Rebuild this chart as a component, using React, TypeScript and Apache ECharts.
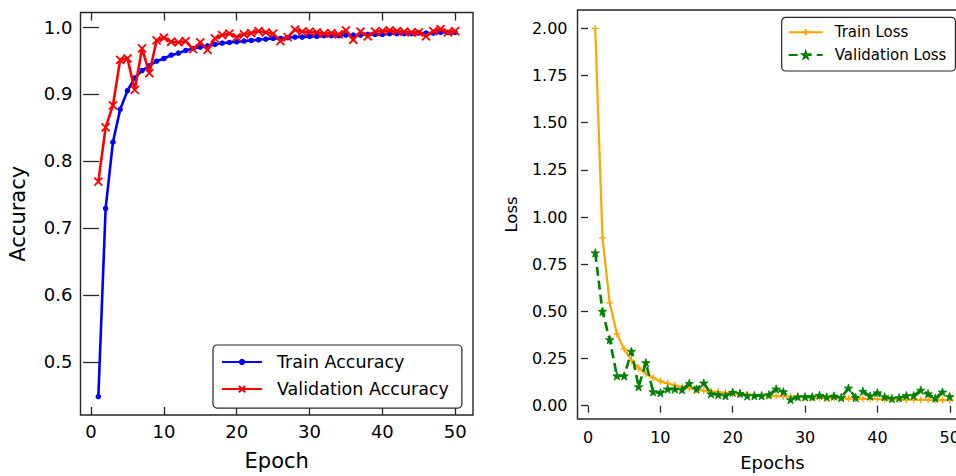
import React, { useEffect, useRef } from "react";
import * as echarts from "echarts";

const epochs = [1,2,3,4,5,6,7,8,9,10,11,12,13,14,15,16,17,18,19,20,21,22,23,24,25,26,27,28,29,30,31,32,33,34,35,36,37,38,39,40,41,42,43,44,45,46,47,48,49,50];

const trainAcc = [0.448,0.729,0.828,0.877,0.905,0.924,0.935,0.942,0.949,0.953,0.958,0.961,0.965,0.968,0.970,0.972,0.974,0.976,0.977,0.978,0.979,0.980,0.981,0.982,0.983,0.983,0.984,0.985,0.985,0.986,0.986,0.987,0.987,0.987,0.988,0.988,0.988,0.989,0.989,0.989,0.990,0.990,0.990,0.990,0.991,0.991,0.991,0.992,0.992,0.992];

const valAcc = [0.769,0.850,0.883,0.951,0.953,0.906,0.968,0.931,0.980,0.984,0.978,0.977,0.979,0.967,0.977,0.966,0.983,0.988,0.990,0.985,0.989,0.991,0.994,0.992,0.990,0.979,0.985,0.996,0.993,0.993,0.992,0.990,0.991,0.989,0.995,0.981,0.993,0.986,0.993,0.994,0.995,0.994,0.993,0.992,0.992,0.986,0.994,0.997,0.992,0.994];

const trainLoss = [2.00,0.89,0.545,0.38,0.30,0.24,0.20,0.17,0.148,0.13,0.118,0.108,0.099,0.092,0.086,0.080,0.076,0.072,0.068,0.065,0.062,0.060,0.057,0.055,0.053,0.051,0.049,0.048,0.046,0.045,0.044,0.042,0.041,0.040,0.039,0.038,0.037,0.037,0.036,0.035,0.034,0.034,0.033,0.032,0.032,0.031,0.031,0.030,0.030,0.029];

const valLoss = [0.81,0.50,0.35,0.158,0.158,0.288,0.100,0.228,0.074,0.068,0.088,0.088,0.085,0.118,0.088,0.120,0.063,0.058,0.053,0.071,0.065,0.052,0.053,0.053,0.058,0.088,0.074,0.032,0.047,0.047,0.047,0.055,0.046,0.051,0.043,0.093,0.043,0.076,0.051,0.068,0.047,0.038,0.042,0.053,0.053,0.082,0.063,0.040,0.072,0.048];

const epochTicks = [0, 10, 20, 30, 40, 50];
const accTicks = [0.5, 0.6, 0.7, 0.8, 0.9, 1.0];
const lossTicks = [0, 0.25, 0.5, 0.75, 1.0, 1.25, 1.5, 1.75, 2.0];

const STAR = "path://M50,0L61.8,35.1L98.5,35.1L68.8,56.7L79.9,91.9L50,70.3L20.1,91.9L31.2,56.7L1.5,35.1L38.2,35.1Z";
const CROSS = "path://M0,0L10,10M0,10L10,0";
const PLUS = "path://M5,0L5,10M0,5L10,5";

const FONT = "DejaVu Sans";
const FRAME = "#262626";

export default function App() {
  const ref = useRef<HTMLDivElement>(null);
  useEffect(() => {
    if (!ref.current) return;
    const chart = echarts.init(ref.current, undefined, { renderer: "svg" });
    const pairs = (vals: number[]) => epochs.map((e, i) => [e, vals[i]]);
    const tickLine = { color: FRAME, width: 1.3 };
    const option: any = {
      animation: false,
      textStyle: { fontFamily: FONT },
      grid: [
        { left: 80.5, top: 12.5, width: 392.5, height: 404.2, show: true, borderColor: FRAME, borderWidth: 1.4, backgroundColor: "transparent" },
        { left: 577.5, top: 10, width: 390, height: 411.7, show: true, borderColor: FRAME, borderWidth: 1.4, backgroundColor: "transparent" },
      ],
      xAxis: [
        {
          gridIndex: 0, type: "value", min: -1.45, max: 52.45, position: "bottom",
          axisLine: { show: false }, splitLine: { show: false },
          axisTick: { show: true, inside: true, length: 8, customValues: epochTicks, lineStyle: tickLine },
          axisLabel: { customValues: epochTicks, fontSize: 18, color: "#000", margin: 7, fontFamily: FONT },
          name: "Epoch", nameLocation: "middle", nameGap: 35, nameTextStyle: { fontSize: 21, color: "#000", fontFamily: FONT },
        },
        {
          gridIndex: 0, type: "value", min: -1.45, max: 52.45, position: "top",
          axisLine: { show: false }, splitLine: { show: false },
          axisTick: { show: true, inside: true, length: 8, customValues: epochTicks, lineStyle: tickLine },
          axisLabel: { show: false },
        },
        {
          gridIndex: 1, type: "value", min: -1.45, max: 52.45, position: "bottom",
          axisLine: { show: false }, splitLine: { show: false },
          axisTick: { show: true, inside: false, length: 7, customValues: epochTicks, lineStyle: tickLine },
          axisLabel: { customValues: epochTicks, fontSize: 16, color: "#000", margin: 10, fontFamily: FONT },
          name: "Epochs", nameLocation: "middle", nameGap: 34, nameTextStyle: { fontSize: 18, color: "#000", fontFamily: FONT },
        },
      ],
      yAxis: [
        {
          gridIndex: 0, type: "value", min: 0.4205, max: 1.0217, position: "left",
          axisLine: { show: false }, splitLine: { show: false },
          axisTick: { show: true, inside: true, length: 8, customValues: accTicks, lineStyle: tickLine },
          axisLabel: { customValues: accTicks, fontSize: 18, color: "#000", margin: 8, fontFamily: FONT, formatter: (v: number) => v.toFixed(1) },
          name: "Accuracy", nameLocation: "middle", nameGap: 52, nameTextStyle: { fontSize: 21, color: "#000", fontFamily: FONT },
        },
        {
          gridIndex: 0, type: "value", min: 0.4205, max: 1.0217, position: "right",
          axisLine: { show: false }, splitLine: { show: false },
          axisTick: { show: true, inside: true, length: 8, customValues: accTicks, lineStyle: tickLine },
          axisLabel: { show: false },
        },
        {
          gridIndex: 1, type: "value", min: -0.0705, max: 2.0975, position: "left",
          axisLine: { show: false }, splitLine: { show: false },
          axisTick: { show: true, inside: false, length: 7, customValues: lossTicks, lineStyle: tickLine },
          axisLabel: { customValues: lossTicks, fontSize: 16, color: "#000", margin: 10, fontFamily: FONT, formatter: (v: number) => v.toFixed(2) },
          name: "Loss", nameLocation: "middle", nameGap: 58, nameTextStyle: { fontSize: 16.5, color: "#000", fontFamily: FONT },
        },
      ],
      legend: [
        {
          data: ["Train Accuracy", "Validation Accuracy"], orient: "vertical", left: 213, top: 345,
          itemWidth: 40, itemHeight: 8, itemGap: 9.1, padding: [8, 13, 10, 8],
          borderColor: FRAME, borderWidth: 1.2, borderRadius: 4, backgroundColor: "#fff",
          textStyle: { fontSize: 17.5, color: "#000", fontFamily: FONT, padding: [0, 0, 0, 10] },
          selectedMode: false,
        },
        {
          data: ["Train Loss", "Validation Loss"], orient: "vertical", left: 781.7, top: 17.3,
          itemWidth: 34, itemHeight: 8, itemGap: 7.7, padding: [7.5, 9, 8.5, 6],
          borderColor: FRAME, borderWidth: 1.2, borderRadius: 4, backgroundColor: "#fff",
          textStyle: { fontSize: 15, color: "#000", fontFamily: FONT, padding: [0, 0, 0, 7] },
          selectedMode: false,
        },
      ],
      series: [
        {
          type: "line", name: "Train Accuracy", xAxisIndex: 0, yAxisIndex: 0, data: pairs(trainAcc),
          symbol: "circle", symbolSize: 5.5, lineStyle: { color: "#0000ff", width: 2.6 },
          itemStyle: { color: "#0000ff", borderWidth: 0 }, z: 2,
        },
        {
          type: "line", name: "Validation Accuracy", xAxisIndex: 0, yAxisIndex: 0, data: pairs(valAcc),
          symbol: CROSS, symbolSize: 8, lineStyle: { color: "#ff0000", width: 2.6 },
          itemStyle: { color: "#ff0000", borderColor: "#ff0000", borderWidth: 1.8 }, z: 3,
        },
        {
          type: "line", name: "Train Loss", xAxisIndex: 2, yAxisIndex: 2, data: pairs(trainLoss),
          symbol: PLUS, symbolSize: 7, lineStyle: { color: "#ffa500", width: 2.2 },
          itemStyle: { color: "#ffa500", borderColor: "#ffa500", borderWidth: 1.3 }, z: 2,
        },
        {
          type: "line", name: "Validation Loss", xAxisIndex: 2, yAxisIndex: 2, data: pairs(valLoss),
          symbol: STAR, symbolSize: 8.5, lineStyle: { color: "#008000", width: 2.6, type: [9, 5] },
          itemStyle: { color: "#008000", borderColor: "#008000", borderWidth: 0.8 }, z: 3,
        },
      ],
    };
    chart.setOption(option);
    return () => chart.dispose();
  }, []);
  return (
    <div style={{ position: "absolute", left: 0, top: 0, width: 956, height: 476, overflow: "hidden", background: "#fff" }}>
      <div ref={ref} style={{ width: 980, height: 476 }} />
    </div>
  );
}
